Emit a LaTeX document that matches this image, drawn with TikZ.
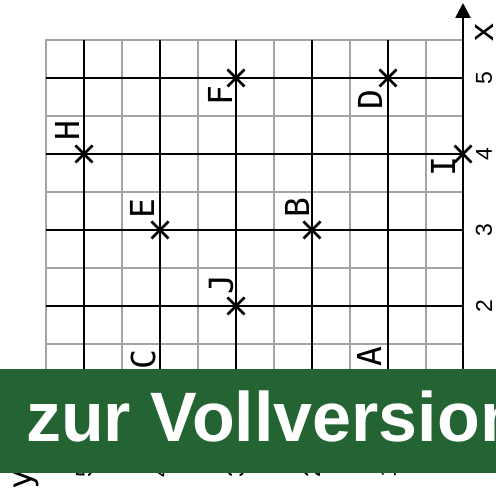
\documentclass[tikz,border=0pt]{standalone}
\usepackage{fontspec}
\setmainfont{Liberation Sans}
\newfontfamily\lblfont{DejaVu Sans Mono}
\usetikzlibrary{arrows.meta,calc}
\definecolor{bannergreen}{RGB}{36,99,50}
\definecolor{gridgray}{RGB}{163,163,163}
\begin{document}
\begin{tikzpicture}[x=1pt,y=-1pt,
  thingrid/.style={draw=gridgray,line width=2pt,line cap=rect},
  thickgrid/.style={draw=black,line width=2.5pt},
  axisline/.style={draw=black,line width=2.6pt},
  ptmark/.style={draw=black,line width=2.6pt},
  lbl/.style={font=\lblfont\fontsize{33}{33}\selectfont, rotate=90, inner sep=0pt},
  ticklbl/.style={font=\fontsize{23}{23}\selectfont, rotate=90, inner sep=0pt},
  cross/.pic={\draw[ptmark] (-8.5,-8.5) -- (8.5,8.5) (-8.5,8.5) -- (8.5,-8.5);}
]
\useasboundingbox (0,0) rectangle (496,494);
% grid
\foreach \x in {46,122,198,274,350,426} \draw[thingrid] (\x,40) -- (\x,458);
\foreach \y in {40,116,192,268,344,420} \draw[thingrid] (46,\y) -- (463,\y);
\foreach \x in {84,160,236,312,388} \draw[thickgrid] (\x,40) -- (\x,458);
\foreach \y in {78,154,230,306,382} \draw[thickgrid] (46,\y) -- (463,\y);
% axes
\coordinate (O) at (463,458);
\coordinate (xtip) at (463,3);
\coordinate (ytip) at (3,458);
\draw[axisline,-{Triangle[length=15pt,width=15pt]}] (O) -- (xtip);
\draw[axisline,-{Triangle[length=15pt,width=15pt]}] (O) -- (ytip);
\node[lbl] (xlab) at (484,33) {x};
\node[lbl] (ylab) at (26,480) {y};
% tick labels
\node[ticklbl] (x5) at (484,78) {5};
\node[ticklbl] (x4) at (484,154) {4};
\node[ticklbl] (x3) at (484,230) {3};
\node[ticklbl] (x2) at (484,306) {2};
\node[ticklbl] (x1) at (484,382) {1};
\node[ticklbl] (y5) at (84,471) {5};
\node[ticklbl] (y4) at (160,471) {4};
\node[ticklbl] (y3) at (236,471) {3};
\node[ticklbl] (y2) at (312,471) {2};
\node[ticklbl] (y1) at (388,471) {1};
% points
\coordinate (H) at (84,154);
\coordinate (F) at (236,78);
\coordinate (E) at (160,230);
\coordinate (D) at (388,78);
\coordinate (B) at (312,230);
\coordinate (I) at (463,154);
\coordinate (J) at (236,306);
\coordinate (C) at (160,382);
\coordinate (A) at (388,382);
\foreach \p in {H,F,E,D,B,I,J,C,A} \pic at (\p) {cross};
\node[lbl] (Hl) at (67,131) {H};
\node[lbl] (Fl) at (220,96) {F};
\node[lbl] (El) at (142,209) {E};
\node[lbl] (Dl) at (370,100) {D};
\node[lbl] (Bl) at (297,208) {B};
\node[lbl] (Il) at (443,167) {I};
\node[lbl] (Jl) at (221,285) {J};
\node[lbl] (Cl) at (143,360) {C};
\node[lbl] (Al) at (369,357) {A};
% banner
\fill[bannergreen] (0,369) rectangle (496,473);
\node[anchor=base west, font=\fontsize{70}{70}\selectfont\bfseries, text=white, inner sep=0pt] (banner) at (26,442) {zur Vollversion};
\end{tikzpicture}
\end{document}
